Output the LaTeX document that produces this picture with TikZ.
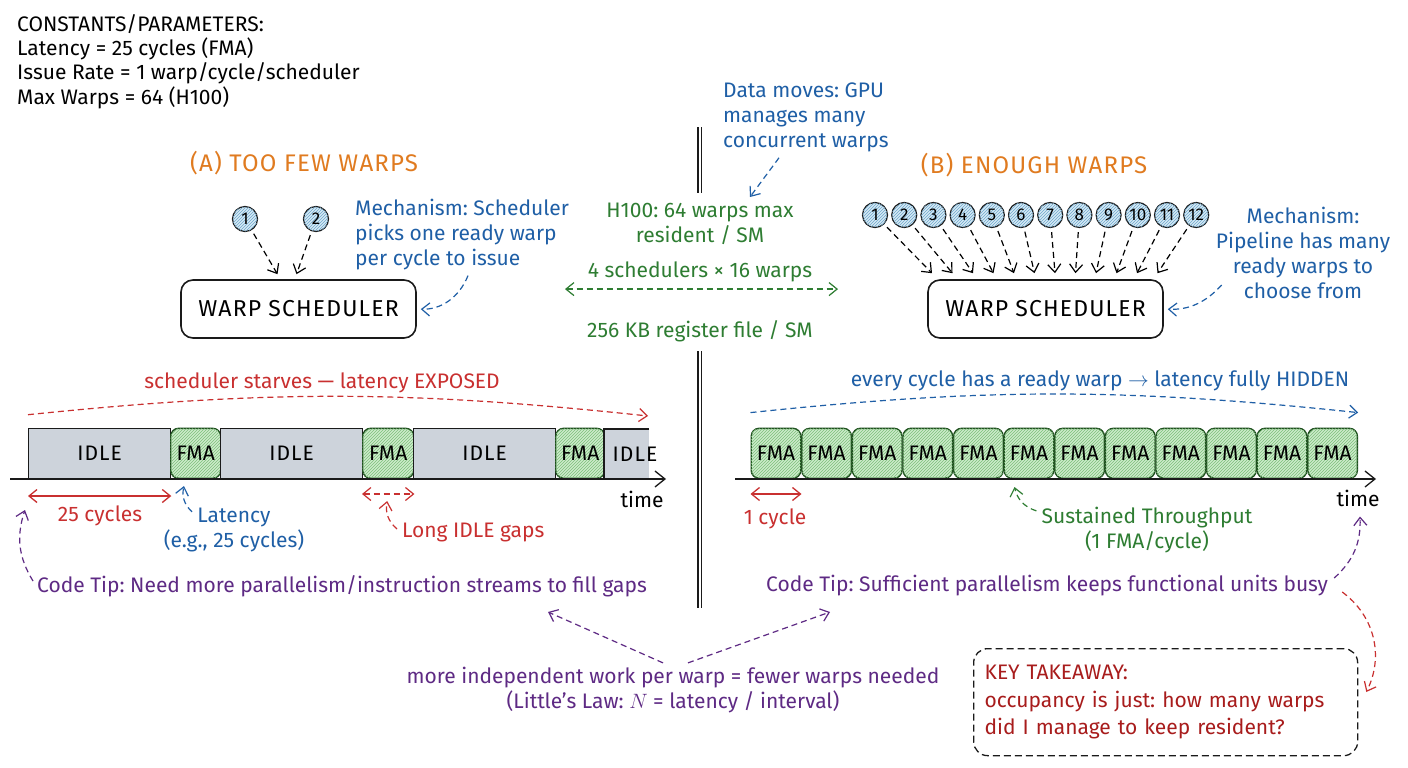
\documentclass[tikz,border=0pt]{standalone}
\usepackage{fontspec}
\setmainfont{Fira Sans}
\newfontfamily\capsfont[LetterSpace=5]{Fira Sans}
\frenchspacing
\usetikzlibrary{arrows.meta,positioning,calc,patterns}
\definecolor{ink}        {HTML}{1A1A1A}
\definecolor{titleorange}{HTML}{E07B20}
\definecolor{noteblue}   {HTML}{1F5FA6}
\definecolor{notegreen}  {HTML}{2E7D32}
\definecolor{notered}    {HTML}{C93030}
\definecolor{tipviolet}  {HTML}{5E2A84}
\definecolor{keyred}     {HTML}{A81C1C}
\definecolor{idlegrey}   {HTML}{CDD3DB}
\definecolor{fmafill}    {HTML}{CDEBCB}
\definecolor{fmaedge}    {HTML}{1E4D1E}
\definecolor{hatchgreen} {HTML}{7CC07A}
\definecolor{warpfill}   {HTML}{D6EAF5}
\definecolor{hatchblue}  {HTML}{6EA6CC}
\tikzset{
  txt/.style      ={font=\fontsize{21}{25}\selectfont, inner sep=0pt},
  headline/.style ={font=\capsfont\fontsize{24}{28}\selectfont, text=titleorange, inner sep=0pt},
  schedbox/.style ={draw=ink, line width=1.6pt, rounded corners=12pt, fill=white,
                    minimum width=235pt, minimum height=58pt,
                    font=\capsfont\fontsize{23}{26}\selectfont},
  warpdot/.style  ={circle, draw=ink, line width=1.2pt, minimum size=25pt, inner sep=0pt,
                    fill=warpfill, postaction={pattern=north east lines, pattern color=hatchblue},
                    font=\fontsize{17}{17}\selectfont},
  idlebox/.style  ={draw=ink, line width=1.3pt, fill=idlegrey, minimum height=50pt,
                    inner sep=0pt, font=\capsfont\fontsize{21}{24}\selectfont},
  fmabox/.style   ={draw=fmaedge, line width=1.4pt, fill=fmafill, rounded corners=8pt,
                    postaction={pattern=north east lines, pattern color=hatchgreen},
                    minimum height=50pt, inner sep=0pt, font=\fontsize{21}{24}\selectfont},
  keybox/.style   ={draw=ink, line width=1.3pt, dash pattern=on 7pt off 4pt, rounded corners=14pt,
                    minimum width=384pt, minimum height=107pt, text width=362pt, align=left,
                    text=keyred, font=\fontsize{21}{27.5}\selectfont},
  dasharr/.style  ={dash pattern=on 6pt off 4pt, line width=1.2pt,
                    -{Straight Barb[length=8pt,width=13pt]}},
  dashboth/.style ={dash pattern=on 6pt off 4pt, line width=1.2pt,
                    {Straight Barb[length=8pt,width=13pt]}-{Straight Barb[length=8pt,width=13pt]}},
  spanarr/.style  ={line width=1.3pt,
                    {Straight Barb[length=8pt,width=13pt]}-{Straight Barb[length=8pt,width=13pt]}},
  axisarr/.style  ={draw=ink, line width=1.3pt, -{Straight Barb[length=10pt,width=16pt]}},
}

\begin{document}
\begin{tikzpicture}[x=1pt,y=-1pt]
  \useasboundingbox[fill=white] (0,0) rectangle (1408,768);

  % parameters
  \node[txt, font=\fontsize{21}{24.3}\selectfont, align=left, anchor=north west] (consts) at (17,14)
    {CONSTANTS/PARAMETERS:\\Latency = 25 cycles (FMA)\\Issue Rate = 1 warp/cycle/scheduler\\Max Warps = 64 (H100)};

  % divider
  \draw[ink, line width=1.1pt] (698,127) -- (698,193) (701.5,127) -- (701.5,193)
                               (698,351) -- (698,608) (701.5,351) -- (701.5,608);

  % ---- (A) too few warps
  \node[headline] (titleA) at (304,163) {(A) TOO FEW WARPS};
  \node[warpdot] (a1) at (245,219) {1};
  \node[warpdot] (a2) at (316,219) {2};
  \node[schedbox] (schedA) at (298.5,309) {WARP SCHEDULER};
  \draw[dasharr, shorten <=4pt] (a1) -- ($(schedA.north)+(-21,-5)$);
  \draw[dasharr, shorten <=4pt] (a2) -- ($(schedA.north)+(-2,-5)$);
  \node[txt, text=noteblue, align=left, anchor=west] (mechA) at (355,235)
    {Mechanism: Scheduler\\picks one ready warp\\per cycle to issue};
  \draw[dasharr, noteblue, shorten >=4pt] ($(mechA.south west)+(113,5)$) to[bend left=35] (schedA.east);

  % timeline A
  \foreach \a/\b/\k/\t/\nm in {28/170/idlebox/IDLE/i1, 170/220/fmabox/FMA/f1,
                               220/362/idlebox/IDLE/i2, 362/413/fmabox/FMA/f2,
                               413/555/idlebox/IDLE/i3, 555/604/fmabox/FMA/f3}{
    \pgfmathsetmacro\w{\b-\a}
    \node[\k, minimum width=\w pt, anchor=south west] (\nm) at (\a,479) {\t};
  }
  \fill[idlegrey] (604,429) rectangle (649,479);
  \draw[ink, line width=1.3pt] (649,429) -- (604,429) -- (604,479);
  \node[txt, font=\capsfont\fontsize{21}{24}\selectfont] (i4) at (635,454) {IDLE};
  \coordinate (axA0) at (10,479);
  \coordinate (axA1) at (666,479);
  \draw[axisarr] (axA0) -- (axA1);
  \node[txt] (timeA) at (642,499) {time};

  \node[txt, text=notered] (starveA) at (322,383) {scheduler starves — latency EXPOSED};
  \draw[dasharr, notered] ($(i1.north west)+(0,-13)$) to[bend left=6] (648,416);

  \draw[spanarr, notered] ($(i1.south west)+(0,17)$) -- ($(i1.south east)+(0,17)$);
  \node[txt, text=notered] (cycA) at (100,516) {25 cycles};
  \node[txt, text=noteblue, align=center] (latA) at (234,530) {Latency\\(e.g., 25 cycles)};
  \draw[dasharr, noteblue] ($(latA.north)+(-42,4)$) to[bend left=30] ($(f1.south west)+(14,7)$);

  \draw[dashboth, notered] ($(f2.south west)+(0,15)$) -- ($(f2.south east)+(0,15)$);
  \node[txt, text=notered, anchor=west] (gapA) at (402,532) {Long IDLE gaps};
  \draw[dasharr, notered] ($(gapA.west)+(-5,-3)$) to[bend left=30] ($(f2.south)+(-1,22)$);

  \node[txt, text=tipviolet, anchor=west] (tipA) at (37,586)
    {Code Tip: Need more parallelism/instruction streams to fill gaps};
  \draw[dasharr, tipviolet] ($(tipA.west)+(-4,-5)$) to[bend left=25] ($(i1.south west)+(-3,31)$);

  % ---- centre
  \node[txt, text=noteblue, align=left, anchor=west] (gpunote) at (723,117)
    {Data moves: GPU\\manages many\\concurrent warps};
  \node[txt, text=notegreen, align=center] (h100) at (700,224) {H100: 64 warps max\\resident / SM};
  \draw[dasharr, noteblue] ($(gpunote.south west)+(56,6)$) -- ($(h100.north)+(50,-6)$);
  \node[txt, text=notegreen] (sched4) at (700,272) {4 schedulers × 16 warps};
  \node[txt, text=notegreen] (regfile) at (700,331) {256 KB register file / SM};
  \draw[dashboth, notegreen] ($(regfile.north)+(-135,-31)$) -- ($(regfile.north)+(138,-31)$);

  % ---- (B) enough warps
  \node[headline] (titleB) at (1034,165) {(B) ENOUGH WARPS};
  \node[schedbox] (schedB) at (1045.5,309) {WARP SCHEDULER};
  \foreach \i in {1,...,12}{
    \pgfmathsetmacro\cx{875+29.2*(\i-1)}
    \pgfmathsetmacro\tx{-113.5+20.5*(\i-1)}
    \node[warpdot] (b\i) at (\cx,215) {\i};
    \draw[dasharr, shorten <=4pt] (b\i) -- ($(schedB.north)+(\tx,-6)$);
  }
  \node[txt, text=noteblue, align=center] (mechB) at (1303,253)
    {Mechanism:\\Pipeline has many\\ready warps to\\choose from};
  \draw[dasharr, noteblue, shorten >=4pt] ($(mechB.west)+(6,32)$) to[bend left=25] (schedB.east);

  % timeline B
  \foreach \i in {1,...,12}{
    \pgfmathsetmacro\x{750.5+50.6*(\i-1)}
    \node[fmabox, minimum width=49.6pt, anchor=south west] (g\i) at (\x,479) {FMA};
  }
  \coordinate (axB0) at (735,479);
  \coordinate (axB1) at (1376,479);
  \draw[axisarr] (axB0) -- (axB1);
  \node[txt] (timeB) at (1358,498) {time};

  \node[txt, text=noteblue] (hidB) at (1100,381) {every cycle has a ready warp $\rightarrow$ latency fully HIDDEN};
  \draw[dasharr, noteblue] ($(g1.north west)+(0,-15)$) to[bend left=6] ($(g12.north east)+(0,-15)$);

  \draw[spanarr, notered] ($(g1.south west)+(0,15)$) -- ($(g1.south east)+(0,15)$);
  \node[txt, text=notered] (cycB) at (775,519) {1 cycle};
  \node[txt, text=notegreen, align=center] (thrB) at (1147,530) {Sustained Throughput\\(1 FMA/cycle)};
  \draw[dasharr, notegreen] ($(thrB.north west)+(-5,4)$) to[bend left=30] ($(g6.south west)+(11,8)$);

  \node[txt, text=tipviolet, anchor=west] (tipB) at (766,586)
    {Code Tip: Sufficient parallelism keeps functional units busy};
  \draw[dasharr, tipviolet] ($(tipB.east)+(6,-8)$) to[bend right=25] ($(timeB.south)+(2,10)$);

  % ---- bottom notes
  \node[txt, text=tipviolet, align=center] (lawnote) at (673,690)
    {more independent work per warp = fewer warps needed\\(Little's Law: $N$ = latency / interval)};
  \draw[dasharr, tipviolet] ($(lawnote.north)+(-10,-4)$) -- (548,612);
  \draw[dasharr, tipviolet] ($(lawnote.north)+(15,-4)$) -- (830,612);

  \node[keybox, anchor=north west] (keynote) at (973,648)
    {KEY TAKEAWAY:\\occupancy is just: how many warps\\did I manage to keep resident?};
  \draw[dasharr, notered] ($(tipB.east)+(14,6)$) to[bend left=40] ($(keynote.north east)+(8,44)$);
\end{tikzpicture}
\end{document}
